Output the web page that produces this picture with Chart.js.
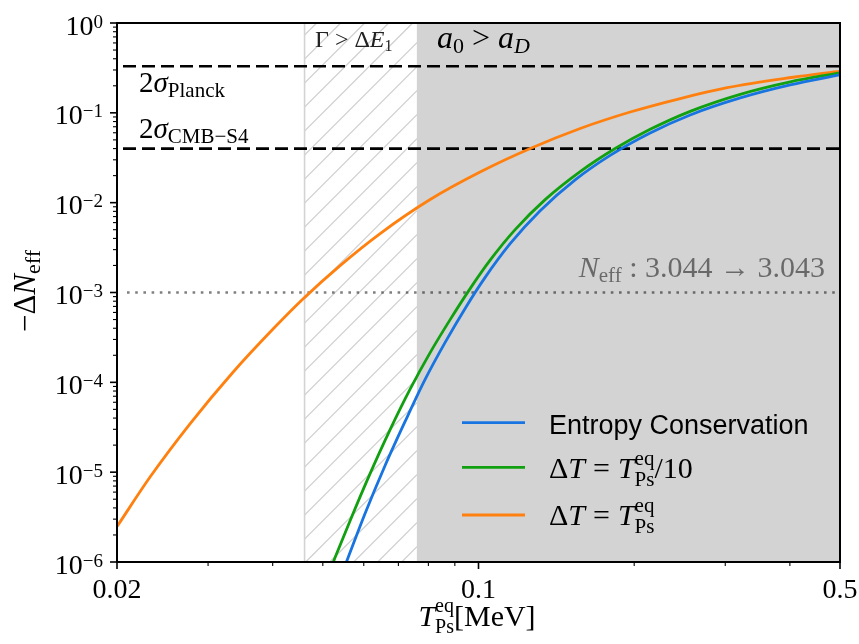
<!DOCTYPE html>
<html>
<head>
<meta charset="utf-8">
<script src="https://cdn.jsdelivr.net/npm/chart.js@4.4.0/dist/chart.umd.min.js"></script>
<style>
  html, body { margin: 0; padding: 0; background: #fff; }
</style>
</head>
<body>
<canvas id="chart" width="859" height="644"></canvas>
<script>
// curves (T_Ps^eq in MeV, -dN_eff)
const entropyT = [0.05546, 0.06035, 0.06598, 0.07213, 0.07885, 0.08620, 0.09422, 0.10300, 0.11513, 0.13159, 0.15378, 0.17972, 0.21476, 0.25666, 0.32068, 0.40070, 0.5];
const entropyN = [9.77e-7, 3.467e-6, 1.187e-5, 3.669e-5, 1.077e-4, 2.781e-4, 6.65e-4, 1.473e-3, 3.494e-3, 8.14e-3, 1.794e-2, 3.363e-2, 5.972e-2, 9.475e-2, 0.1465, 0.2045, 0.2642];

const tenthT = [0.05074, 0.05258, 0.05646, 0.06171, 0.06747, 0.07375, 0.08063, 0.08814, 0.09634, 0.10532, 0.11772, 0.13455, 0.15724, 0.18377, 0.21476, 0.25666, 0.32068, 0.40070, 0.5];
const tenthN = [6.32e-7, 1.055e-6, 2.884e-6, 9.62e-6, 2.973e-5, 8.38e-5, 2.141e-4, 4.99e-4, 1.105e-3, 2.289e-3, 5.004e-3, 1.080e-2, 2.214e-2, 4.003e-2, 6.551e-2, 0.1039, 0.1607, 0.2214, 0.2789];

const fullT = [0.02, 0.02317, 0.02768, 0.03352, 0.04006, 0.04598, 0.0540, 0.06454, 0.08063, 0.1007, 0.1259, 0.15724, 0.1965, 0.2455, 0.3026, 0.4060, 0.5];
const fullN = [2.48e-6, 8.82e-6, 3.45e-5, 1.296e-4, 3.92e-4, 8.69e-4, 1.993e-3, 4.53e-3, 1.083e-2, 2.19e-2, 4.00e-2, 6.69e-2, 0.1021, 0.1443, 0.1904, 0.249, 0.292];

const seriesColors = ["#1874e0", "#10a010", "#ff800e"];

// reference lines and shaded bands
const boundPlanck = 0.33;
const boundS4 = 0.04;
const neffShift = 1e-3;
const hatchBand = [0.0461, 0.0760];
const grayBand = [0.0760, 0.5];

// axis ticks
const xMajor = [0.02, 0.1, 0.5];
const xMajorLabels = ["0.02", "0.1", "0.5"];
const xMinor = [0.03, 0.04, 0.05, 0.06, 0.07, 0.08, 0.09, 0.2, 0.3, 0.4];
const yExponents = [0, -1, -2, -3, -4, -5, -6];

const serif = '"Liberation Serif", "Times New Roman", serif';

// draw a line of text made of pieces (sub/superscripts, italics)
function rich(ctx, parts, x, y, align, color) {
  const fontOf = (p) => (p.it ? "italic " : "") + p.size + "px " + (p.sans ? '"Liberation Sans", sans-serif' : serif);
  const widths = parts.map((p) => {
    if (p.gap) return p.gap;
    ctx.font = fontOf(p);
    if (p.sup !== undefined) {
      return Math.max(ctx.measureText(p.sup).width, ctx.measureText(p.sub).width);
    }
    return ctx.measureText(p.t).width;
  });
  const total = widths.reduce((a, b) => a + b, 0);
  let cx = align === "right" ? x - total : align === "center" ? x - total / 2 : x;
  ctx.fillStyle = color || "#000";
  ctx.textAlign = "left";
  ctx.textBaseline = "alphabetic";
  parts.forEach((p, i) => {
    if (!p.gap) {
      ctx.font = fontOf(p);
      if (p.sup !== undefined) {
        ctx.fillText(p.sup, cx, y + p.up);
        ctx.fillText(p.sub, cx, y + p.down);
      } else {
        ctx.fillText(p.t, cx, y + (p.dy || 0));
      }
    }
    cx += widths[i];
  });
  return total;
}

const backdrop = {
  id: "backdrop",
  beforeDatasetsDraw(chart) {
    const { ctx, chartArea: a, scales } = chart;
    const x = scales.x, y = scales.y;
    ctx.save();
    // a0 > aD band
    const g0 = x.getPixelForValue(grayBand[0]), g1 = x.getPixelForValue(grayBand[1]);
    ctx.fillStyle = "#d3d3d3";
    ctx.fillRect(g0, a.top, g1 - g0, a.bottom - a.top);
    // hatched band
    const h0 = x.getPixelForValue(hatchBand[0]), h1 = x.getPixelForValue(hatchBand[1]);
    ctx.save();
    ctx.beginPath();
    ctx.rect(h0, a.top, h1 - h0, a.bottom - a.top);
    ctx.clip();
    ctx.strokeStyle = "#d0d0d0";
    ctx.lineWidth = 1.3;
    for (let c = 3.7; c < 1200; c += 24) {
      ctx.beginPath();
      ctx.moveTo(c - a.bottom, a.bottom);
      ctx.lineTo(c - a.top, a.top);
      ctx.stroke();
    }
    ctx.restore();
    ctx.strokeStyle = "#d3d3d3";
    ctx.lineWidth = 1.6;
    ctx.beginPath();
    ctx.moveTo(h0, a.top);
    ctx.lineTo(h0, a.bottom);
    ctx.stroke();

    // dotted N_eff line
    const yd = y.getPixelForValue(neffShift);
    ctx.strokeStyle = "rgba(0,0,0,0.5)";
    ctx.lineWidth = 2.6;
    ctx.setLineDash([2.6, 5.6]);
    ctx.beginPath();
    ctx.moveTo(a.left + 10, yd);
    ctx.lineTo(a.right, yd);
    ctx.stroke();

    // dashed bounds
    ctx.strokeStyle = "#000";
    ctx.lineWidth = 2.6;
    ctx.setLineDash([13, 6]);
    [boundPlanck, boundS4].forEach((v) => {
      const yy = y.getPixelForValue(v);
      ctx.beginPath();
      ctx.moveTo(a.left + 6, yy);
      ctx.lineTo(a.right, yy);
      ctx.stroke();
    });
    ctx.restore();
  },
};

const overlay = {
  id: "overlay",
  afterDraw(chart) {
    const { ctx, chartArea: a, scales } = chart;
    const x = scales.x, y = scales.y;
    ctx.save();

    // annotations
    rich(ctx, [
      { t: "Γ > Δ", size: 24 }, { t: "E", size: 24, it: true }, { t: "1", size: 16, dy: 4 },
    ], 315, 46.5, "left", "#222");
    rich(ctx, [
      { t: "a", size: 32, it: true }, { t: "0", size: 22, dy: 5 }, { t: " > ", size: 32 },
      { t: "a", size: 32, it: true }, { t: "D", size: 22, it: true, dy: 5 },
    ], 437, 47.5, "left", "#000");
    rich(ctx, [
      { t: "2", size: 29 }, { t: "σ", size: 29, it: true }, { t: "Planck", size: 21, dy: 5 },
    ], 139, 91.5, "left", "#000");
    rich(ctx, [
      { t: "2", size: 29 }, { t: "σ", size: 29, it: true }, { t: "CMB−S4", size: 21, dy: 5 },
    ], 139, 138, "left", "#000");
    rich(ctx, [
      { t: "N", size: 30, it: true }, { t: "eff", size: 21, dy: 5 }, { t: " : 3.044 → 3.043", size: 30 },
    ], 825, 277, "right", "rgba(0,0,0,0.5)");

    // legend
    const legendY = [422.7, 467.3, 515];
    legendY.forEach((ly, i) => {
      ctx.strokeStyle = seriesColors[i];
      ctx.lineWidth = 2.8;
      ctx.setLineDash([]);
      ctx.beginPath();
      ctx.moveTo(462, ly);
      ctx.lineTo(525, ly);
      ctx.stroke();
    });
    rich(ctx, [{ t: "Entropy Conservation", size: 27, sans: true }], 549, 434, "left", "#000");
    const dT = [
      { t: "Δ", size: 30 }, { t: "T", size: 30, it: true }, { gap: 8 }, { t: "=", size: 30 }, { gap: 8 },
      { t: "T", size: 30, it: true }, { sup: "eq", sub: "Ps", size: 21, up: -13, down: 8 },
    ];
    rich(ctx, dT.concat([{ t: "/10", size: 30 }]), 549, 478, "left", "#000");
    rich(ctx, dT, 549, 525, "left", "#000");

    // frame
    ctx.strokeStyle = "#000";
    ctx.lineWidth = 2;
    ctx.strokeRect(a.left, a.top, a.right - a.left, a.bottom - a.top);

    // x ticks
    ctx.lineWidth = 1.6;
    xMajor.forEach((v, i) => {
      const px = x.getPixelForValue(v);
      ctx.beginPath();
      ctx.moveTo(px, a.bottom);
      ctx.lineTo(px, a.bottom + 7);
      ctx.stroke();
      rich(ctx, [{ t: xMajorLabels[i], size: 28 }], px, 598, "center", "#000");
    });
    ctx.lineWidth = 1.1;
    xMinor.forEach((v) => {
      const px = x.getPixelForValue(v);
      ctx.beginPath();
      ctx.moveTo(px, a.bottom);
      ctx.lineTo(px, a.bottom + 4);
      ctx.stroke();
    });

    // y ticks
    yExponents.forEach((e) => {
      const py = y.getPixelForValue(Math.pow(10, e));
      ctx.lineWidth = 1.6;
      ctx.beginPath();
      ctx.moveTo(a.left, py);
      ctx.lineTo(a.left - 7, py);
      ctx.stroke();
      rich(ctx, [
        { t: "10", size: 28 }, { t: e === 0 ? "0" : "−" + -e, size: 19, dy: -7 },
      ], 103, py + 11.5, "right", "#000");
      if (e < 0) {
        ctx.lineWidth = 1.1;
        for (let m = 2; m <= 9; m++) {
          const pm = y.getPixelForValue(m * Math.pow(10, e));
          ctx.beginPath();
          ctx.moveTo(a.left, pm);
          ctx.lineTo(a.left - 4, pm);
          ctx.stroke();
        }
      }
    });

    // axis titles
    rich(ctx, [
      { t: "T", size: 30, it: true }, { sup: "eq", sub: "Ps", size: 20, up: -14, down: 7 }, { t: "[MeV]", size: 30 },
    ], 477, 626, "center", "#000");
    ctx.save();
    ctx.translate(35, 291);
    ctx.rotate(-Math.PI / 2);
    rich(ctx, [
      { t: "−Δ", size: 31 }, { t: "N", size: 31, it: true }, { t: "eff", size: 22, dy: 5 },
    ], 0, 0, "center", "#000");
    ctx.restore();

    ctx.restore();
  },
};

const toPoints = (xs, ys) => xs.map((v, i) => ({ x: v, y: ys[i] }));

const lineSet = (label, xs, ys, color) => ({
  label: label,
  data: toPoints(xs, ys),
  showLine: true,
  borderColor: color,
  backgroundColor: color,
  borderWidth: 2.8,
  pointRadius: 0,
  cubicInterpolationMode: "monotone",
  clip: 0,
});

const ctx = document.getElementById("chart").getContext("2d");
new Chart(ctx, {
  type: "scatter",
  data: {
    datasets: [
      lineSet("Entropy Conservation", entropyT, entropyN, seriesColors[0]),
      lineSet("ΔT = T/10", tenthT, tenthN, seriesColors[1]),
      lineSet("ΔT = T", fullT, fullN, seriesColors[2]),
    ],
  },
  options: {
    responsive: false,
    animation: false,
    layout: { padding: { left: 117, right: 19, top: 23, bottom: 82 } },
    scales: {
      x: { type: "logarithmic", min: 0.02, max: 0.5, display: false },
      y: { type: "logarithmic", min: 1e-6, max: 1, display: false },
    },
    plugins: { legend: { display: false }, tooltip: { enabled: false } },
  },
  plugins: [backdrop, overlay],
});
</script>
</body>
</html>
